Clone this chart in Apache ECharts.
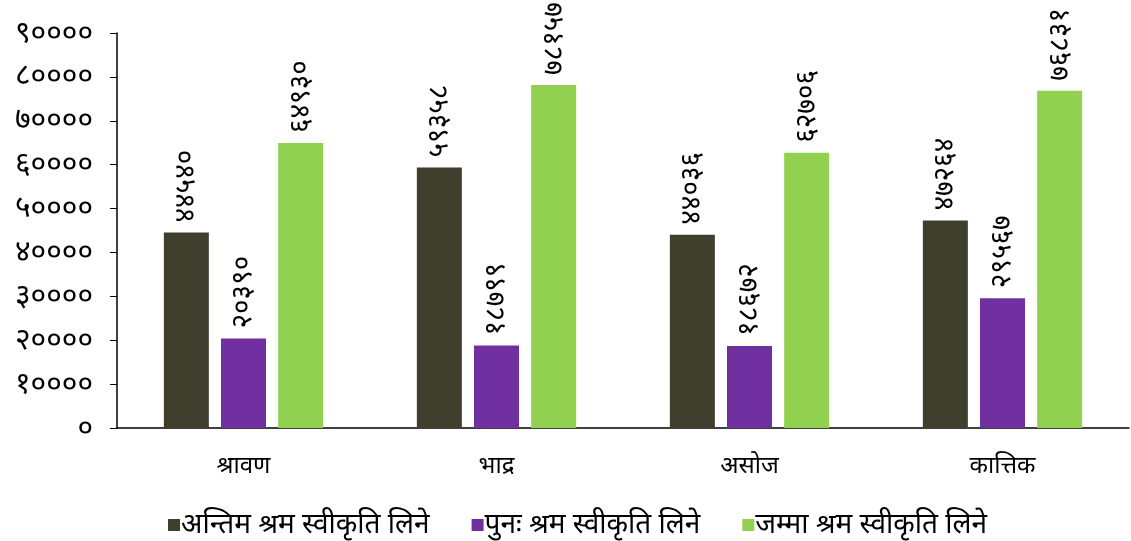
<!DOCTYPE html>
<html><head><meta charset="utf-8">
<script src="https://cdn.jsdelivr.net/npm/echarts@6/dist/echarts.min.js"></script>
<style>html,body{margin:0;padding:0;background:#fff}#c{width:1131px;height:541px}</style>
</head><body><div id="c"></div>
<script>
const categories = ['श्रावण', 'भाद्र', 'असोज', 'कात्तिक'];
const seriesNames = ['अन्तिम श्रम स्वीकृति लिने', 'पुनः श्रम स्वीकृति लिने', 'जम्मा श्रम स्वीकृति लिने'];
const finalApproval = [44540, 59358, 44036, 47264];
const renewal = [20390, 18799, 18672, 29567];
const total = [64930, 78157, 62706, 76831];
const colors = ['#403E2D', '#7030A0', '#92D050'];

const devDigits = '०१२३४५६७८९';
const toDev = v => String(v).replace(/[0-9]/g, d => devDigits[+d]);
const FONT = '"Noto Sans", "DejaVu Sans", sans-serif';

const mk = (name, data, color) => ({
  name, type: 'bar', data,
  barWidth: 45, barGap: '27%',
  itemStyle: { color },
  label: {
    show: true, position: 'top', rotate: 90, align: 'left', verticalAlign: 'middle',
    distance: 10, fontSize: 28, color: '#000', fontFamily: FONT,
    formatter: p => toDev(p.value)
  }
});

const chart = echarts.init(document.getElementById('c'));
chart.setOption({
  animation: false,
  grid: { left: 117, right: 2, top: 33, bottom: 113 },
  xAxis: {
    type: 'category', data: categories,
    axisLine: { lineStyle: { color: '#000', width: 1.5 } },
    axisTick: { show: false },
    axisLabel: { fontSize: 24, color: '#000', margin: 26, fontFamily: FONT }
  },
  yAxis: {
    type: 'value', min: 0, max: 90000, interval: 10000,
    axisLine: { show: true, lineStyle: { color: '#000', width: 1.5 } },
    axisTick: { show: true, length: 7, lineStyle: { color: '#000' } },
    splitLine: { show: false },
    axisLabel: { fontSize: 30, color: '#000', margin: 24, fontFamily: FONT, formatter: v => toDev(v) }
  },
  legend: {
    bottom: -3, left: 163, itemWidth: 12, itemHeight: 12, itemGap: 42, icon: 'rect',
    textStyle: { fontSize: 28, color: '#000', fontFamily: FONT, padding: [0, 0, 0, -4] }
  },
  series: [mk(seriesNames[0], finalApproval, colors[0]), mk(seriesNames[1], renewal, colors[1]), mk(seriesNames[2], total, colors[2])]
});
</script></body></html>
